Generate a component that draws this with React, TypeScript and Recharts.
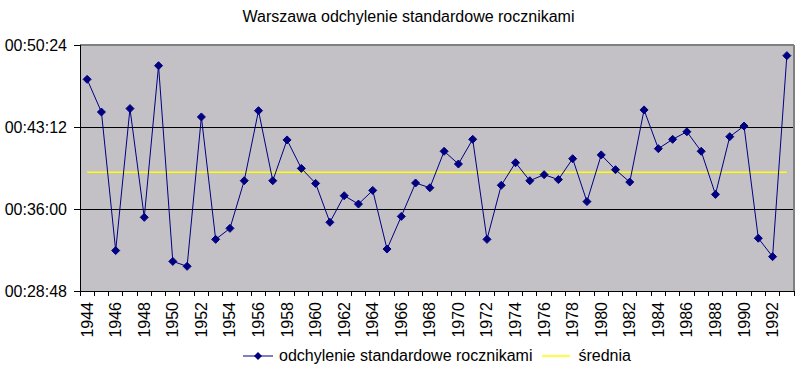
import {
  CartesianGrid,
  Legend,
  Line,
  LineChart,
  ReferenceLine,
  XAxis,
  YAxis,
} from "recharts";

// years 1944-1993, one point each
const years = [
  1944, 1945, 1946, 1947, 1948, 1949, 1950, 1951, 1952, 1953, 1954, 1955, 1956,
  1957, 1958, 1959, 1960, 1961, 1962, 1963, 1964, 1965, 1966, 1967, 1968, 1969,
  1970, 1971, 1972, 1973, 1974, 1975, 1976, 1977, 1978, 1979, 1980, 1981, 1982,
  1983, 1984, 1985, 1986, 1987, 1988, 1989, 1990, 1991, 1992, 1993,
];

// standard deviation per year, in seconds (00:MM:SS on the axis)
const stdev = [
  2843, 2671, 1941, 2689, 2116, 2915, 1884, 1858, 2645, 2000, 2058, 2309, 2678,
  2309, 2524, 2374, 2295, 2090, 2230, 2186, 2258, 1949, 2121, 2297, 2272, 2464,
  2397, 2527, 2000, 2285, 2404, 2309, 2341, 2315, 2425, 2199, 2445, 2367, 2302,
  2682, 2478, 2527, 2567, 2464, 2237, 2541, 2597, 2006, 1909, 2968,
];

// średnia (mean), seconds
const mean = 2353;

const yTicks = [1728, 2160, 2592, 3024];
const xTicks = years.map((_, i) => i).concat(years.length);

const data = years.map((year, i) => ({
  x: i + 0.5,
  year,
  value: stdev[i],
  mean,
}));

const WIDTH = 803;
const HEIGHT = 371;
const MARGIN = { top: 45, right: 9, left: 0, bottom: 0 };
const Y_AXIS_W = 80;
const BAND = (WIDTH - MARGIN.right - Y_AXIS_W) / years.length;
const FONT = "'Liberation Sans', Arial, sans-serif";
const NAVY = "#000080";

const pad = (n: number) => String(n).padStart(2, "0");
const fmtTime = (s: number) =>
  `00:${pad(Math.floor(s / 60))}:${pad(Math.round(s % 60))}`;

const Diamond = (props: any) => {
  const { cx, cy } = props;
  if (cx == null || cy == null) return null;
  const r = 4;
  return (
    <path
      d={`M${cx},${cy - r} L${cx + r},${cy} L${cx},${cy + r} L${cx - r},${cy} Z`}
      fill={NAVY}
      stroke={NAVY}
    />
  );
};

const YearTick = (props: any) => {
  const { x, y, payload } = props;
  const i = payload.value;
  if (i % 2 !== 0 || i >= years.length) return null;
  const cx = x + BAND / 2;
  return (
    <text
      x={cx}
      y={y}
      transform={`rotate(-90, ${cx}, ${y})`}
      textAnchor="end"
      dominantBaseline="central"
      fontSize={16}
      fontFamily={FONT}
      fill="#000"
    >
      {years[i]}
    </text>
  );
};

const LegendContent = () => (
  <div
    style={{
      display: "flex",
      alignItems: "center",
      fontFamily: FONT,
      fontSize: 16,
      color: "#000",
      paddingLeft: 243,
    }}
  >
    <svg width={30} height={10}>
      <line x1={0} y1={5} x2={30} y2={5} stroke={NAVY} strokeWidth={1} />
      <path d="M15,1 L19,5 L15,9 L11,5 Z" fill={NAVY} />
    </svg>
    <span style={{ marginLeft: 6 }}>odchylenie standardowe rocznikami</span>
    <svg width={28} height={10} style={{ marginLeft: 10 }}>
      <line x1={0} y1={5} x2={28} y2={5} stroke="#FFFF00" strokeWidth={1.5} />
    </svg>
    <span style={{ marginLeft: 8 }}>średnia</span>
  </div>
);

export default function App() {
  return (
    <div
      style={{
        position: "relative",
        width: WIDTH,
        height: HEIGHT,
        background: "#fff",
      }}
    >
      <style>{"body{margin:0}"}</style>
      <div
        style={{
          position: "absolute",
          top: 8,
          left: 0,
          width: WIDTH,
          textAlign: "center",
          paddingLeft: 14,
          boxSizing: "border-box",
          fontFamily: FONT,
          fontSize: 16,
          color: "#000",
        }}
      >
        Warszawa odchylenie standardowe rocznikami
      </div>
      <LineChart width={WIDTH} height={HEIGHT} data={data} margin={MARGIN}>
        <CartesianGrid
          vertical={false}
          stroke="#000"
          fill="#C3C1C6"
          fillOpacity={1}
          strokeOpacity={1}
          shapeRendering="crispEdges"
        />
        <XAxis
          type="number"
          dataKey="x"
          domain={[0, years.length]}
          ticks={xTicks}
          interval={0}
          height={80}
          tickSize={5}
          tickMargin={6}
          tickLine={{ stroke: "#000", shapeRendering: "crispEdges" }}
          axisLine={{ stroke: "#000", shapeRendering: "crispEdges" }}
          tick={<YearTick />}
        />
        <YAxis
          type="number"
          domain={[1728, 3024]}
          ticks={yTicks}
          interval={0}
          width={Y_AXIS_W}
          tickSize={6}
          tickMargin={7}
          tickFormatter={fmtTime}
          tick={{ fontSize: 16, fontFamily: FONT, fill: "#000" }}
          tickLine={{ stroke: "#000", shapeRendering: "crispEdges" }}
          axisLine={{ stroke: "#000", shapeRendering: "crispEdges" }}
        />
        <ReferenceLine
          y={3024}
          stroke="#808080"
          strokeWidth={2}
          shapeRendering="crispEdges"
        />
        <ReferenceLine
          x={years.length}
          stroke="#808080"
          strokeWidth={2}
          shapeRendering="crispEdges"
        />
        <Legend
          layout="horizontal"
          verticalAlign="middle"
          align="center"
          wrapperStyle={{ top: 347, left: 0, width: WIDTH }}
          content={<LegendContent />}
        />
        <Line
          dataKey="mean"
          stroke="#FFFF00"
          strokeWidth={1.5}
          dot={false}
          activeDot={false}
          isAnimationActive={false}
        />
        <Line
          dataKey="value"
          stroke={NAVY}
          strokeWidth={1}
          dot={<Diamond />}
          activeDot={false}
          isAnimationActive={false}
        />
      </LineChart>
    </div>
  );
}
